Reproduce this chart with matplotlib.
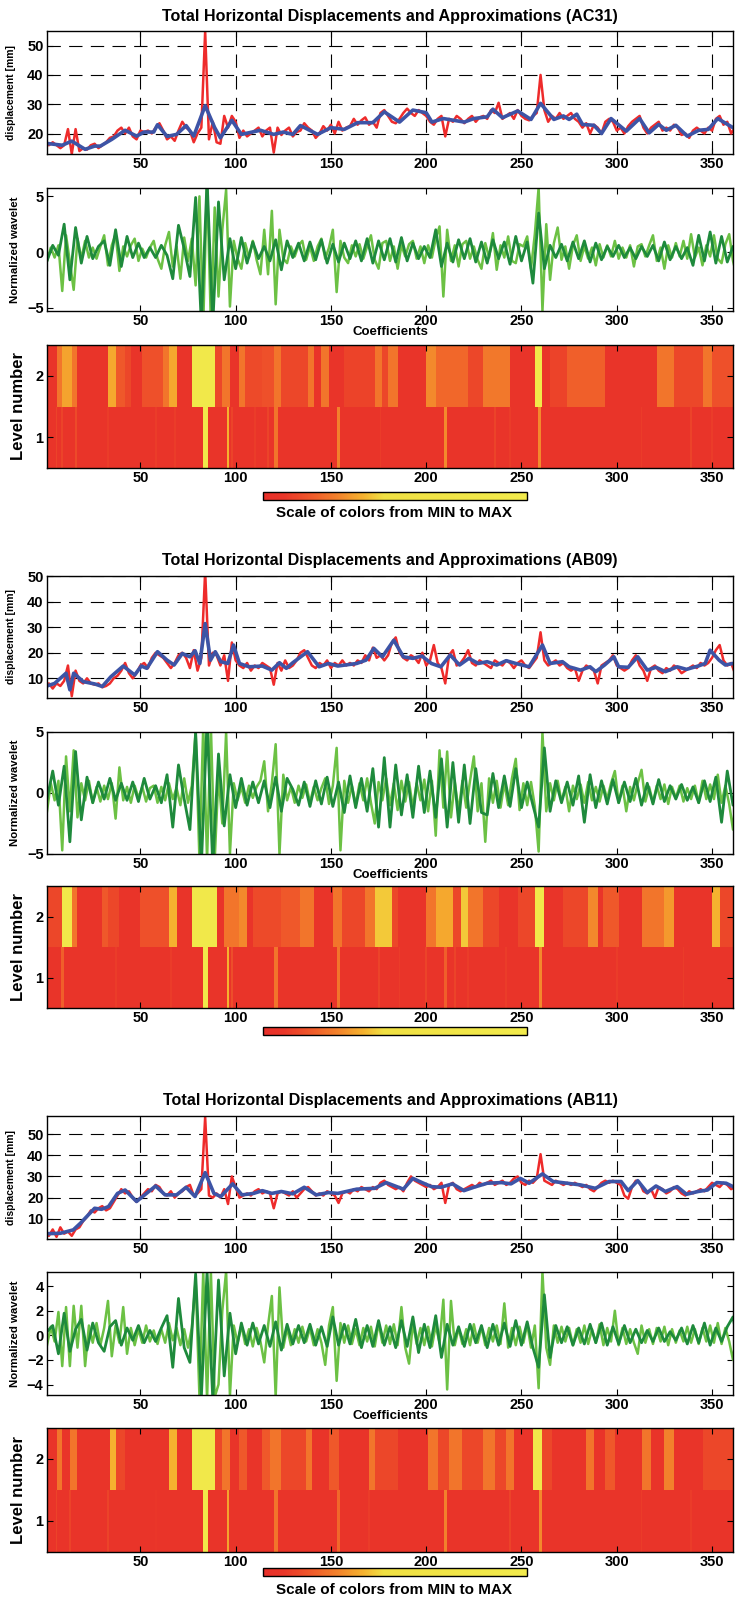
import numpy as np
import matplotlib
matplotlib.use('Agg')
import matplotlib.pyplot as plt
from matplotlib.colors import LinearSegmentedColormap
from matplotlib.cm import ScalarMappable

plt.rcParams['font.family'] = ['Liberation Sans', 'DejaVu Sans']
plt.rcParams['font.weight'] = 'bold'

stations = ['AC31', 'AB09', 'AB11']

# ---------------- AC31 ----------------
# raw displacement, one value every 2 days starting at day 0
red_ac31 = [17, 16, 17, 16, 15, 16, 21.5, 13, 21.5, 14,
            15, 14.5, 16, 16.5, 15, 16, 17, 18.5, 19, 21,
            22, 20, 22, 19, 18, 21, 20.5, 21, 20, 22,
            23.5, 21, 18, 19, 17.5, 21, 24, 22, 21, 17,
            20, 22, 55, 18, 24, 17, 16.5, 26, 22, 26,
            24, 18.5, 21, 19, 20, 21, 22, 19, 21, 22,
            13.5, 22, 19.5, 21, 22, 19, 20.5, 21, 23.5, 22,
            21, 18.5, 20, 22.5, 21, 23, 20, 24, 21, 22,
            22.5, 25, 23, 24.5, 25.5, 23, 24, 22, 27, 28,
            26, 24, 23.5, 25, 27, 28.5, 27, 26, 28, 27,
            26, 24, 23, 25, 26, 19, 25, 24, 26, 25,
            23.5, 25, 26, 24, 25.5, 26, 25, 28, 27, 30.5,
            25, 26, 27, 25, 28, 26, 25, 24.5, 26, 27,
            40, 28, 24, 26, 25, 27, 25, 26, 27, 25,
            24, 22, 23.5, 20, 23, 22, 20, 24, 25, 24,
            21, 22, 20, 22.5, 24, 25, 26, 22, 20, 22,
            23, 24, 21, 22, 21, 23, 22, 19.5, 20, 18.5,
            21, 22, 21, 20, 22, 21, 25, 26, 23, 24,
            20, 22, 21]
# approximation (digitised vertices)
blue_x_ac31 = [1, 9, 14, 21, 26, 29, 35, 42, 48, 52, 57, 59, 64, 69, 74, 78, 84, 89, 92, 98,
               103, 113, 120, 125, 130, 134, 143, 150, 157, 164, 172, 178, 186, 193, 200, 203,
               209, 220, 225, 232, 235, 240, 248, 255, 260, 267, 272, 275, 279, 282, 288, 292,
               297, 305, 312, 317, 322, 326, 331, 337, 343, 348, 353, 361]
blue_y_ac31 = [16.6, 16, 17.4, 14.6, 15.7, 15.7, 18, 21.1, 19.1, 20.5, 20.5, 23, 19, 19.7, 22.7,
               19.1, 29.5, 22, 18.5, 24.5, 19.7, 21.1, 19.7, 20.5, 19.7, 22.7, 19.7, 22, 21.4,
               23.7, 23.7, 27.4, 23.9, 28, 27.1, 23.9, 25.1, 23.9, 25.1, 25.7, 28.3, 25.4, 27.7,
               24.8, 30.3, 24.8, 26, 24.8, 26.6, 23.1, 22.8, 20, 25.1, 20.8, 25.1, 20.2, 23.1,
               21.1, 22.8, 19.1, 21.1, 21.4, 25.1, 22]
# level-1 detail (light green): one value every 2 coefficients from 1
d1_ac31 = [-0.8, 0.4, -0.5, 0.6, -3.5, 1.5, -0.9, -3.4, 1.2, -0.6,
           1.0, -0.5, 0.4, -0.6, 0.5, 1.5, -1.2, 0.6, 1.6, -1.7,
           0.5, -0.4, 0.6, 1.2, -0.8, 0.3, -0.5, 0.4, 1.0, -0.6,
           -1.5, 0.6, 1.8, -1.3, 0.5, -2.4, 1.3, -0.8, 1.2, -3.0,
           5.0, -6.5, 6.5, -6.5, 4.0, -4.0, 2.0, 5.6, -4.9, 1.0,
           -0.6, -1.5, 0.8, -0.5, 1.0, -0.7, -2.0, 2.0, -2.0, 3.7,
           -4.7, 2.0, -0.6, -1.0, 0.5, -0.4, 0.6, 1.0, -0.7, 0.5,
           -0.8, 0.5, 1.2, -0.6, 0.4, 2.0, -3.6, 1.0, -0.5, -1.0,
           0.6, -0.4, 0.7, -0.6, 0.5, 1.5, -0.7, -1.5, 0.8, 1.0,
           -0.8, 0.5, -1.5, 0.6, -0.4, 0.7, 1.0, -0.6, 0.5, -1.0,
           0.6, -0.5, 1.2, 2.3, -4.0, 2.0, -0.8, 0.6, -1.3, 0.7,
           1.0, -0.6, 0.5, -0.7, -1.5, 0.8, -0.5, 1.7, -1.6, 0.6,
           -0.5, 1.4, -0.8, -1.0, 0.7, 0.5, 1.4, -1.5, 1.6, 5.8,
           -5.3, 2.5, -2.5, 0.8, 2.2, -0.7, 0.5, -1.5, 0.6, 1.5,
           -0.8, 0.5, -0.6, 0.4, -1.2, 0.7, -0.5, 0.6, -0.4, 1.0,
           -0.6, 0.4, -0.5, 0.6, -1.3, 0.5, 0.7, -0.4, 0.6, 1.5,
           -0.8, 0.4, -1.5, 0.6, -0.5, 0.8, -0.4, 1.0, -0.6, 1.6,
           -0.5, 0.4, -1.2, 0.6, -0.4, 1.5, -0.6, -1.0, 0.7, 1.6,
           -0.8, -2.2, 0.5]
# level-2 detail (dark green): one value every 3 coefficients from 1
d2_ac31 = [-0.8, 0.6, -0.3, 2.5, -2.5, 2.2, -1.0, 1.4, -0.6, 0.5,
           1.0, -1.2, 2.0, -1.3, 1.4, -0.5, 0.8, -0.5, 0.4, -0.5,
           0.6, -0.3, -2.4, 2.4, 0.3, -2.2, 4.9, -6.5, 6.5, -6.5,
           4.5, -2.5, 1.2, -1.5, 1.3, -1.0, 0.9, -0.6, 0.5, -0.8,
           1.1, -1.6, 1.0, -0.5, 0.8, -0.8, 0.9, -0.7, 1.1, -1.0,
           0.7, -0.9, 0.8, -0.6, 1.0, -0.8, 1.2, -1.0, 1.0, -0.7,
           1.2, -0.9, 1.3, -0.8, 0.8, -0.6, 0.5, -0.5, 2.0, -1.3,
           0.8, -0.9, 1.1, -0.6, 1.2, -0.9, 0.9, -1.0, 1.1, -0.6,
           0.9, -1.1, 1.4, -0.8, 0.9, -2.8, 3.5, -1.5, 0.6, -0.5,
           0.7, -0.8, 0.9, -0.6, 1.0, -0.9, 0.8, -0.7, 0.5, -0.4,
           0.6, -0.5, 0.4, -0.6, 0.5, -0.4, 0.6, -0.8, 0.9, -0.7,
           0.5, -0.6, 0.4, -1.2, 1.5, -0.8, 1.8, -1.0, 1.4, -0.9,
           0.5, -1.2]
# coefficient magnitude (0 = MIN, 1 = MAX): level 2 blocks, level 1 stripes on a red base
lv2_edges_ac31 = [0.5, 6, 9, 14, 17, 33, 37, 42, 45, 51, 62, 65, 69, 77, 89, 93, 97, 102, 105, 114,
                  120, 124, 138, 141, 145, 149, 157, 173, 177, 180, 185, 200, 205, 222, 230, 244,
                  257, 261, 265, 274, 294, 321, 330, 345, 350, 365.5]
lv2_vals_ac31 = [0.05, 0.25, 0.35, 0.25, 0.05, 0.36, 0.18, 0.13, 0.05, 0.16, 0.25, 0.36, 0.05,
                 0.85, 0.13, 0.25, 0.05, 0.25, 0.14, 0.16, 0.25, 0.13, 0.25, 0.05, 0.25, 0.05,
                 0.12, 0.25, 0.13, 0.25, 0.05, 0.3, 0.22, 0.13, 0.26, 0.05, 0.85, 0.05, 0.12,
                 0.2, 0.05, 0.25, 0.13, 0.25, 0.16]
lv1_pos_ac31 = [6, 9, 16, 33, 58, 68, 84, 96, 98, 110, 117, 121, 154, 176, 210, 236, 244, 259.5, 313, 339, 350]
lv1_wid_ac31 = [1, 1, 1, 1, 1, 1, 2.5, 1.5, 1, 1, 1, 2, 1.5, 1, 1.5, 1, 1, 1.5, 1, 1, 1]
lv1_val_ac31 = [0.12, 0.12, 0.14, 0.1, 0.1, 0.1, 0.85, 0.38, 0.12, 0.1, 0.12, 0.25, 0.28, 0.1,
                0.3, 0.12, 0.1, 0.3, 0.1, 0.12, 0.1]

# ---------------- AB09 ----------------
red_ab09 = [7, 8, 6, 8, 7, 9, 15, 3, 13, 9,
            8, 10, 8, 7.5, 8, 6.5, 7, 8, 10, 11,
            13, 16, 12, 10, 12, 15, 16, 14, 18, 20,
            19, 18, 16, 14, 16, 19, 20, 18, 14, 21,
            13, 18, 52, 15, 20, 19, 15, 19, 9, 24,
            17, 15, 14, 16, 13, 15, 14, 16, 15, 14,
            7.5, 16, 13, 17, 14, 15, 17, 20, 21, 18,
            15, 14, 16, 15, 17, 14, 16, 15, 17, 15,
            16, 15, 17, 16, 19, 17, 22, 18, 19, 17,
            19, 24, 26, 20, 18, 17, 19, 18, 16, 20,
            15, 17, 23, 16, 14, 8, 19, 21, 15, 16,
            18, 21, 16, 15, 17, 16, 15, 14, 17, 16,
            15, 17, 16, 14, 16, 17, 15, 14, 16, 18,
            28, 17, 15, 16, 17, 15, 16, 14, 13, 14,
            9, 13, 15, 14, 13, 8, 15, 16, 17, 19,
            15, 14, 13, 14, 17, 19, 15, 13, 9, 14,
            15, 13, 12, 14, 13, 15, 14, 12, 13, 14,
            15, 14, 16, 15, 16, 18, 21, 23, 17, 15,
            16, 12, 14]
blue_x_ab09 = [1, 5, 11, 13, 15, 20, 26, 30, 34.5, 41, 47, 50.5, 53.4, 59, 64, 67.7, 72, 76, 78.7,
               81.2, 84, 86.8, 89.3, 92.2, 95.9, 98.9, 102, 107, 114, 119, 123, 126.6, 130, 137.7,
               143.8, 148.7, 153.6, 163.5, 168.4, 172.5, 177, 183, 188, 193, 197.8, 202.7, 207.7,
               212.6, 217.5, 222.4, 227.3, 232, 237, 242, 247, 254, 261, 265, 271.5, 275, 281,
               286, 289, 293.6, 298.5, 301, 306, 311, 316, 320.6, 325.5, 331.7, 336.6, 342.7,
               346.4, 349, 353.7, 357, 361]
blue_y_ab09 = [7, 8, 12, 5.5, 12, 8.7, 7.8, 6.8, 10.6, 14.8, 11.3, 14.8, 13.9, 20.4, 17.1, 15.2,
               19.7, 18.4, 20.8, 15.8, 31.4, 17.1, 20.4, 16.5, 15.8, 23, 15.8, 14.5, 14.8, 13.2,
               16.1, 13.9, 16.1, 20.4, 14.5, 15.8, 14.8, 15.8, 17.1, 21.7, 18.4, 24.9, 18.4, 17.8,
               18.7, 15.8, 14.5, 19.1, 15.2, 17.8, 15.8, 16.5, 15.2, 16.9, 15.8, 14.5, 23, 15.8,
               16.5, 14.5, 13.2, 14.5, 12.6, 15.2, 18.4, 14.5, 14.3, 18.4, 13.2, 14.3, 12.6, 14.5,
               13.5, 14.8, 15.8, 21, 17.1, 15.2, 15.8]
d1_ab09 = [-1.5, 0.8, -0.6, 1.0, -4.7, 3.0, -1.5, 3.5, -2.0, 0.8,
           -0.6, 1.0, -0.8, 0.5, -0.7, 0.6, -0.5, 0.8, -2.1, 2.1,
           -0.6, 0.5, -0.8, 0.6, -0.4, 0.5, -0.7, 0.4, 0.6, -0.8,
           0.5, -0.6, 0.8, -0.5, 0.4, -1.0, 1.2, -0.8, 0.6, 5.0,
           -5.5, 5.5, -5.5, 5.5, -5.5, 1.5, -2.5, 5.0, -5.0, 0.8,
           -0.6, 0.5, -0.8, 0.6, -0.4, 0.5, 1.0, 2.6, -1.5, 0.8,
           4.0, -5.0, 1.5, -0.6, 0.5, -0.8, 0.6, -0.4, 0.7, -0.8,
           0.5, -0.6, 0.4, 1.2, -0.9, 0.6, 3.7, -4.7, 1.0, -0.8,
           0.6, -1.0, 0.8, -0.6, 1.2, -0.8, -2.5, 0.9, -0.6, 1.2,
           -1.0, 0.8, -1.4, 1.0, -0.7, 0.9, -1.2, 0.8, -0.6, 1.1,
           -1.5, 1.0, -3.5, 3.5, -1.2, 3.4, -2.0, 0.9, -1.5, 1.0,
           -1.2, 1.0, 3.0, -1.5, 0.8, -4.0, 1.2, -0.8, 1.0, -1.2,
           0.8, -1.0, 1.2, 2.8, -1.4, 0.8, -1.0, 0.9, -1.1, -4.8,
           5.0, -1.5, 0.8, -0.6, 1.0, -0.7, 0.5, -1.5, 0.6, -0.5,
           0.7, -0.8, 0.9, -0.6, 0.5, -0.7, 0.6, -0.5, 0.8, 1.8,
           -0.8, 0.6, -1.5, 0.5, -0.6, 0.8, 1.9, -0.7, 0.5, -0.8,
           0.6, -0.5, 0.7, -0.9, 0.5, -0.4, 0.6, -0.7, 0.4, -0.5,
           0.6, -0.8, 1.0, -0.5, 0.7, -0.5, 1.5, -0.8, 0.6, -0.9,
           -3.0, 0.8, -0.5]
d2_ab09 = [-0.5, 1.8, -1.0, 2.2, -4.0, 3.4, -2.2, 1.3, -0.8, 0.9,
           -0.5, 1.2, -0.6, 0.8, -0.6, 0.9, -0.7, 1.2, -0.5, 0.6,
           -0.8, 1.5, -2.8, 2.3, -0.5, -3.0, 5.0, -6.0, 6.0, -6.0,
           3.2, -2.7, 1.5, -1.2, 1.2, -1.0, 0.9, -0.8, 1.0, -1.2,
           1.3, -1.5, 1.2, 0.3, -1.0, 0.9, -1.1, 1.0, -0.9, 1.3,
           -1.1, 0.9, -1.6, 1.4, -1.2, 1.2, -1.5, 2.0, -2.8, 2.9,
           -2.8, 2.3, -1.8, 1.5, -2.0, 2.2, -1.6, 1.8, -2.0, 2.8,
           -2.8, 2.5, -2.4, 2.3, -2.5, 2.0, -1.6, -1.8, 1.6, -1.2,
           1.4, -1.1, 2.0, -1.2, 0.9, -1.0, -2.8, 3.7, -1.5, 1.0,
           -0.8, 0.9, -1.0, 1.4, -2.4, 1.5, -1.2, 1.0, -0.9, 1.1,
           -0.8, 0.9, -0.7, 1.2, -1.0, 0.8, -0.9, 1.1, -0.7, 0.6,
           -0.5, 0.7, -0.6, 0.5, -0.8, 1.0, -0.7, 1.3, -2.4, 1.8,
           -1.0, 0.6]
lv2_edges_ab09 = [0.5, 9, 14, 17, 30, 33, 39, 50, 65, 69, 77, 90, 94, 102, 106, 109, 124, 134, 141,
                  151, 156, 168, 173, 182, 185, 200, 205, 214, 218, 222, 230, 238, 248, 257, 262,
                  272, 285, 290, 293, 301, 313, 325, 330, 350, 354, 365.5]
lv2_vals_ab09 = [0.13, 0.85, 0.25, 0.05, 0.18, 0.13, 0.05, 0.16, 0.38, 0.05, 0.85, 0.05, 0.25,
                 0.3, 0.05, 0.14, 0.18, 0.25, 0.05, 0.25, 0.13, 0.25, 0.42, 0.13, 0.05, 0.25,
                 0.36, 0.13, 0.42, 0.25, 0.13, 0.05, 0.13, 0.85, 0.05, 0.13, 0.3, 0.05, 0.18,
                 0.05, 0.25, 0.33, 0.05, 0.38, 0.13]
lv1_pos_ab09 = [9, 37, 66, 84, 96, 98, 121, 154, 175, 186, 200, 210, 215, 222, 242, 260, 300, 335]
lv1_wid_ab09 = [1.5, 1, 1, 2.5, 1.5, 1, 2, 1.5, 1, 1, 1, 1.5, 1, 1, 1, 1.5, 1, 1]
lv1_val_ab09 = [0.2, 0.1, 0.1, 0.85, 0.38, 0.15, 0.25, 0.25, 0.12, 0.1, 0.12, 0.2, 0.12, 0.1,
                0.1, 0.3, 0.1, 0.1]

# ---------------- AB11 ----------------
red_ab11 = [3, 2, 5, 1.5, 6, 3, 4, 2, 5, 6,
            9, 11, 14, 13, 15, 16, 14, 15, 18, 21,
            24, 22, 23, 20, 18, 20, 22, 24, 23, 26,
            25, 22, 21, 23, 20, 22, 23, 25, 26, 21,
            22, 24, 58, 21, 20, 22, 20, 24, 17, 30,
            25, 20, 21, 22, 21, 23, 24, 22, 23, 22,
            15, 22, 23, 22, 21, 23, 20, 22, 24, 25,
            23, 21, 22, 21, 23, 22, 21, 17.5, 22, 23,
            22, 24, 23, 25, 24, 23, 25, 24, 27, 28,
            26, 25, 24, 25, 23, 27, 30, 28, 27, 26,
            25, 26, 24, 25, 27, 17.5, 26, 27, 24, 23,
            24, 25, 26, 25, 27, 26, 27, 28, 26, 27,
            28, 26, 27, 29, 30, 27, 26, 28, 27, 29,
            40.5, 28, 27, 26, 28, 27, 26, 27, 26, 27,
            26, 25, 26, 24, 23, 25, 27, 28, 27, 28,
            27, 26, 21, 19.5, 25, 28, 27, 23, 22, 24,
            20, 25, 24, 22, 23, 25, 24, 22, 21, 23,
            22, 23, 24, 23, 25, 27, 26, 25, 27, 26,
            24, 25, 23]
blue_x_ab11 = [1, 8, 14.8, 18.6, 26, 29.6, 33.3, 38, 42, 48, 58, 63, 69, 74, 78.7, 84, 88.6, 92.2,
               98.4, 103.3, 109.4, 114, 119, 124, 130, 136, 142.3, 148.7, 153.6, 163.5, 173, 179,
               188, 193, 197.8, 202.7, 207.7, 213.8, 219.8, 225, 232, 239.5, 244.5, 249.4, 254,
               261, 266.6, 274, 281, 288.7, 296, 302.3, 306, 311, 316, 320.6, 325.5, 331.7, 336.6,
               342.7, 347.6, 352.5, 357.4, 361]
blue_y_ab11 = [3, 3.2, 4.8, 8, 15, 14.5, 15.8, 22, 23.6, 18.2, 25.5, 21.3, 21.3, 24.9, 20.5, 31.8,
               22, 20.5, 26.5, 21.3, 22, 23.3, 22, 22.9, 21.8, 24.9, 21.3, 22.4, 22, 24, 24.4,
               27.1, 24, 29.1, 27.1, 25.2, 24.9, 26.5, 23.3, 24.9, 26.8, 27.1, 26.5, 29.1, 26.8,
               31.2, 27.6, 26.8, 26, 24.4, 27.6, 27.6, 23.3, 28, 22.4, 25.5, 22.9, 25.2, 21.6,
               22.9, 23.6, 27.1, 26.8, 25.2]
d1_ab11 = [-0.8, 0.7, -0.5, 1.9, -2.5, 2.3, -2.5, 2.4, -1.0, 2.4,
           -2.5, 0.8, -0.6, 1.0, -0.8, 0.6, 2.8, -1.7, 0.8, -0.6,
           2.3, -1.5, 0.6, -0.8, 0.5, -0.6, 0.8, -0.5, 0.4, -0.7,
           0.5, -0.6, 1.0, -0.4, 0.6, -0.8, 0.5, -1.0, 0.6, 4.5,
           -5.0, 5.2, -5.2, 5.2, -5.0, -4.0, 2.0, 5.2, -4.9, 0.8,
           -0.6, 0.8, -0.7, 0.5, -0.9, 0.6, -0.5, -2.2, 0.8, 3.2,
           -5.0, 3.9, -1.0, 0.6, -0.8, 0.5, -0.6, 0.7, -0.5, 0.6,
           -0.8, 0.5, -0.6, -2.4, 0.8, 2.3, -3.7, 1.0, -0.6, 0.8,
           -0.7, 0.5, -0.8, 0.6, -0.5, 0.7, -0.9, 1.0, -0.6, 0.8,
           -0.7, 0.9, -0.8, 2.3, -1.0, -2.3, 1.0, -0.7, 0.6, -0.8,
           0.7, -0.9, 0.8, -0.6, 2.9, -4.4, 2.8, -0.8, 0.6, -0.7,
           0.5, -0.8, 0.9, -0.6, 0.7, -0.8, 0.6, -0.5, 0.8, -0.7,
           2.6, -1.0, 0.6, -0.8, 0.7, -0.6, 0.9, -1.0, 0.8, -4.3,
           5.2, -1.0, -2.4, 0.8, -0.6, 0.7, -0.5, 0.6, -0.8, 0.5,
           -0.6, 0.8, -0.7, 0.5, -0.6, 0.9, -0.8, 0.6, -0.5, 2.0,
           -0.8, 0.6, -0.7, 0.5, -0.6, -1.5, 0.8, -0.6, 0.5, -0.7,
           0.6, -0.5, 0.7, -0.8, 0.5, -0.6, 0.4, -0.5, 0.7, -0.6,
           0.5, -0.7, 0.6, -0.5, 0.8, -0.6, 1.0, -0.7, 0.6, -0.5,
           -2.0, 0.6, -0.4]
d2_ab11 = [0.3, 0.8, -1.5, 1.8, -1.3, 0.5, 1.3, -1.2, 1.0, -0.6,
           -1.3, 0.7, 1.2, -0.8, 0.6, -0.4, 0.8, -0.6, 0.4, -0.5,
           0.6, 1.6, -2.6, 3.0, -1.0, -2.2, 5.0, -5.0, 5.2, -5.2,
           4.5, -3.3, 1.8, -1.5, 1.0, -0.8, 1.0, -0.7, 0.8, -0.9,
           1.1, -1.2, 0.9, -0.7, 0.8, -0.6, 0.9, -0.8, 0.7, -0.9,
           1.5, -0.8, 0.9, -0.7, 1.3, -1.0, 0.8, -0.9, 1.2, -0.8,
           0.7, -1.0, 1.2, -0.9, 1.5, -1.4, 0.9, -1.0, 1.6, -1.8,
           0.9, -0.8, 0.7, -0.9, 0.9, -0.6, 0.8, -1.0, 0.9, -0.8,
           1.0, -0.9, 1.2, -0.8, 1.1, -1.0, -2.6, 3.3, -1.8, 0.8,
           -0.6, 0.7, -0.8, 0.6, -0.7, 0.9, -0.6, 1.0, -0.8, 0.7,
           -0.7, 0.8, -0.6, 0.5, -0.6, 0.4, -0.5, 0.6, -0.5, 0.3,
           -0.4, 0.6, -0.7, 0.8, -0.6, 1.0, -0.8, 0.6, -0.5, 0.7,
           1.5, -1.0]
lv2_edges_ab11 = [0.5, 6, 9, 13, 17, 34, 37, 42, 65, 69, 77, 89, 93, 97, 102, 106, 114, 118, 124,
                  137, 140, 149, 154, 170, 173, 185, 201, 206, 212, 219, 230, 236, 242, 246, 256,
                  261, 266, 284, 288, 294, 299, 313, 318, 325, 330, 345, 365.5]
lv2_vals_ab11 = [0.05, 0.25, 0.05, 0.25, 0.05, 0.38, 0.13, 0.05, 0.38, 0.05, 0.85, 0.13, 0.25,
                 0.05, 0.18, 0.05, 0.18, 0.25, 0.13, 0.25, 0.05, 0.18, 0.05, 0.25, 0.13, 0.05,
                 0.25, 0.13, 0.25, 0.13, 0.25, 0.13, 0.25, 0.05, 0.85, 0.13, 0.05, 0.25, 0.05,
                 0.18, 0.05, 0.25, 0.05, 0.28, 0.05, 0.13]
lv1_pos_ab11 = [6, 13, 33, 58, 84, 96, 121, 154, 170, 210, 244, 260, 313, 339]
lv1_wid_ab11 = [1, 1, 1, 1, 2.5, 1.5, 2, 1.5, 1, 1.5, 1, 1.5, 1, 1]
lv1_val_ab11 = [0.12, 0.12, 0.12, 0.08, 0.85, 0.35, 0.25, 0.22, 0.1, 0.28, 0.12, 0.3, 0.1, 0.1]
lv1_base = 0.06

disp_ylim = [(13, 55), (2.3, 50), (0.5, 58.5)]
disp_yticks = [[20, 30, 40, 50], [10, 20, 30, 40, 50], [10, 20, 30, 40, 50]]
wave_ylim = [(-5.3, 5.75), (-5, 5), (-4.85, 5.15)]
wave_yticks = [[-5, 0, 5], [-5, 0, 5], [-4, -2, 0, 2, 4]]

data = {
    'AC31': (red_ac31, blue_x_ac31, blue_y_ac31, d1_ac31, d2_ac31, lv2_edges_ac31, lv2_vals_ac31,
             lv1_pos_ac31, lv1_wid_ac31, lv1_val_ac31),
    'AB09': (red_ab09, blue_x_ab09, blue_y_ab09, d1_ab09, d2_ab09, lv2_edges_ab09, lv2_vals_ab09,
             lv1_pos_ab09, lv1_wid_ab09, lv1_val_ab09),
    'AB11': (red_ab11, blue_x_ab11, blue_y_ab11, d1_ab11, d2_ab11, lv2_edges_ab11, lv2_vals_ab11,
             lv1_pos_ab11, lv1_wid_ab11, lv1_val_ab11),
}

cmap = LinearSegmentedColormap.from_list('minmax', [
    (0.0, '#e8302a'), (0.08, '#ea3629'), (0.2, '#f05f2a'), (0.3, '#f38a2c'),
    (0.38, '#f5b22f'), (0.46, '#f0e043'), (1.0, '#f2eb4c')])

W, H = 735, 1600
fig = plt.figure(figsize=(W / 100, H / 100), dpi=100)

# pixel layout of each group: title, displacement, wavelet, heatmap, colorbar, colorbar text
layout = [
    (16, (31, 154), (188, 311), (345, 468), (492, 500), 513),
    (560, (576, 698), (732, 854), (886, 1008), (1027, 1035), None),
    (1100, (1116, 1239), (1272, 1395), (1428, 1552), (1568, 1576), 1590),
]
L, R = 47, 733
XT = [50, 100, 150, 200, 250, 300, 350]


def rect(top, bottom, left=L, right=R):
    return [left / W, 1 - bottom / H, (right - left) / W, (bottom - top) / H]


def style(ax):
    ax.set_xlim(1, 361)
    ax.set_xticks(XT)
    ax.tick_params(direction='in', top=True, right=True, length=4, width=0.8,
                   labelsize=10.5, pad=2.5)
    for s in ax.spines.values():
        s.set_linewidth(1.0)


def stripes(pos, wid, val, base):
    edges, vals = [0.5], []
    for p, w, v in zip(pos, wid, val):
        edges += [p - w / 2, p + w / 2]
        vals += [base, v]
    edges.append(365.5)
    vals.append(base)
    return edges, vals


for k, st in enumerate(stations):
    red, bx, by, d1, d2, e2, v2, p1, w1, v1 = data[st]
    ty, dbox, wbox, hbox, cbox, cty = layout[k]
    xc = (L + R) / 2 / W

    fig.text(xc, 1 - ty / H, 'Total Horizontal Displacements and Approximations (%s)' % st,
             ha='center', va='center', fontsize=11.6, fontweight='bold')

    # displacement + approximation
    ax = fig.add_axes(rect(*dbox))
    ax.plot(2 * np.arange(len(red)), red, color='#ee2b2b', lw=1.8)
    ax.plot(bx, by, color='#3d54a6', lw=2.6)
    style(ax)
    ax.set_ylim(*disp_ylim[k])
    ax.set_yticks(disp_yticks[k])
    ax.grid(True, color='black', linestyle=(0, (12, 7.5)), linewidth=0.8)
    ax.set_ylabel('displacement [mm]', fontsize=7.5, fontweight='bold')
    ax.yaxis.set_label_coords((16 - L) / (R - L), 0.5)

    # wavelet details
    ax = fig.add_axes(rect(*wbox))
    ax.plot(1 + 2 * np.arange(len(d1)), d1, color='#6cc144', lw=1.8)
    ax.plot(1 + 3 * np.arange(len(d2)), d2, color='#1e8a3c', lw=2.0)
    style(ax)
    ax.set_ylim(*wave_ylim[k])
    ax.set_yticks(wave_yticks[k])
    ax.set_ylabel('Normalized wavelet', fontsize=8.2, fontweight='bold')
    ax.yaxis.set_label_coords((20 - L) / (R - L), 0.5)
    ax.set_xlabel('Coefficients', fontsize=9.5, fontweight='bold')
    ax.xaxis.set_label_coords(0.5, -21 / (wbox[1] - wbox[0]))
    ax.xaxis.label.set_va('center')

    # coefficient map
    ax = fig.add_axes(rect(*hbox))
    ax.pcolormesh(e2, [1.5, 2.5], [v2], cmap=cmap, vmin=0, vmax=1, antialiased=False)
    e1, vv1 = stripes(p1, w1, v1, lv1_base)
    ax.pcolormesh(e1, [0.5, 1.5], [vv1], cmap=cmap, vmin=0, vmax=1, antialiased=False)
    style(ax)
    ax.set_ylim(0.5, 2.5)
    ax.set_yticks([1, 2])
    ax.set_ylabel('Level number', fontsize=12, fontweight='bold')
    ax.yaxis.set_label_coords((26 - L) / (R - L), 0.5)

    # colour scale
    cax = fig.add_axes(rect(cbox[0], cbox[1], 262.5, 526.5))
    cb = fig.colorbar(ScalarMappable(cmap=cmap, norm=plt.Normalize(0, 1)), cax=cax,
                      orientation='horizontal', ticks=[])
    cb.outline.set_linewidth(1.0)
    if cty is not None:
        fig.text(394.5 / W, 1 - cty / H, 'Scale of colors from MIN to MAX',
                 ha='center', va='center', fontsize=11, fontweight='bold')

fig.savefig('out.png', dpi=100)
